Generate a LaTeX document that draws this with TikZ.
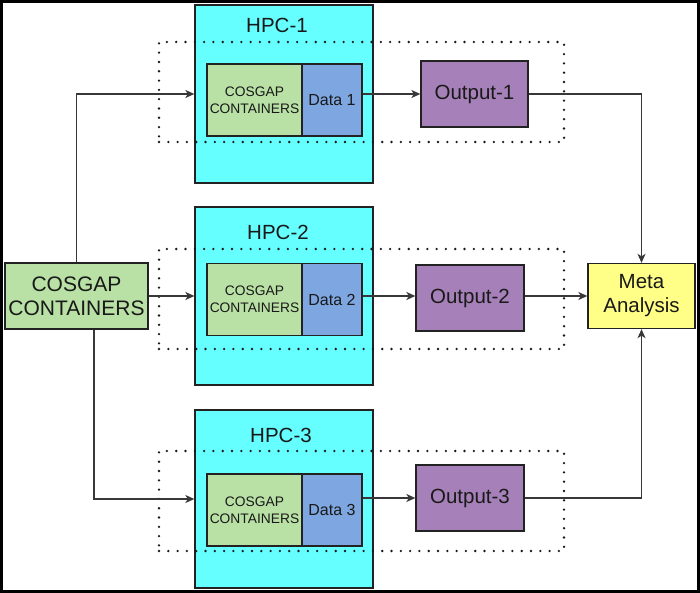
\documentclass[tikz,border=0pt]{standalone}
\usepackage{fontspec}
\setmainfont{Liberation Sans}
\usetikzlibrary{arrows.meta}
\definecolor{hpccyan}{HTML}{66FFFF}
\definecolor{cgreen}{HTML}{B9E0A5}
\definecolor{dblue}{HTML}{7EA6E0}
\definecolor{opurple}{HTML}{A680B8}
\definecolor{myellow}{HTML}{FFFF88}
\definecolor{edgec}{HTML}{222222}
\tikzset{
  basebox/.style={draw=edgec, line width=1.3pt, inner sep=0pt, anchor=center, align=center, text=black!90},
  hpcbox/.style={basebox, fill=hpccyan, minimum width=178pt, minimum height=178pt},
  hpctitle/.style={inner sep=0pt, anchor=center, text=black!90, font=\fontsize{20.5}{24}\selectfont},
  grpbox/.style={draw=black!90, line width=2.6pt, line cap=round, dash pattern=on 0pt off 9.3pt, minimum width=405pt, minimum height=100pt, inner sep=0pt, anchor=center},
  cgsmall/.style={basebox, fill=cgreen, minimum width=95pt, minimum height=72pt, font=\fontsize{13.8}{16.7}\selectfont},
  databox/.style={basebox, fill=dblue, minimum width=60pt, minimum height=72pt, font=\fontsize{16}{19}\selectfont},
  outbox/.style={basebox, fill=opurple, minimum width=108pt, minimum height=66pt, font=\fontsize{20.5}{24}\selectfont},
  conn/.style={draw=edgec!90, line width=1.4pt},
  arr/.style={conn, -{Stealth[length=9pt, width=8pt, inset=2.5pt]}},
}
\begin{document}
\begin{tikzpicture}[x=1pt, y=-1pt]
\useasboundingbox (0,0) rectangle (700,593);
\fill[white] (0,0) rectangle (700,593);

% HPC containers
\node[hpcbox] (hpc1) at (284,94) {};
\node[hpcbox] (hpc2) at (284,296) {};
\node[hpcbox] (hpc3) at (284,499) {};
\node[hpctitle] (t1) at (277,25) {HPC-1};
\node[hpctitle] (t2) at (278,232) {HPC-2};
\node[hpctitle] (t3) at (281,435) {HPC-3};

% dotted groups
\node[grpbox] (g1) at (361.5,92) {};
\node[grpbox] (g2) at (361.5,299) {};
\node[grpbox] (g3) at (361.5,501) {};

% inner boxes
\node[cgsmall] (c1) at (254.5,100) {COSGAP\\CONTAINERS};
\node[databox] (d1) at (332,100) {Data 1};
\node[cgsmall] (c2) at (254.5,299.5) {COSGAP\\CONTAINERS};
\node[databox] (d2) at (332,299.5) {Data 2};
\node[cgsmall] (c3) at (254.5,510) {COSGAP\\CONTAINERS};
\node[databox] (d3) at (332,510) {Data 3};

% outputs
\node[outbox, minimum width=107pt] (o1) at (474.5,94) {Output-1};
\node[outbox] (o2) at (470,298) {Output-2};
\node[outbox] (o3) at (470,498) {Output-3};

% source and sink
\node[basebox, fill=cgreen, minimum width=143pt, minimum height=66pt, font=\fontsize{21}{24}\selectfont] (cg) at (76.5,296) {COSGAP\\CONTAINERS};
\node[basebox, fill=myellow, minimum width=107pt, minimum height=65pt, font=\fontsize{20.5}{24}\selectfont] (meta) at (641.5,296) {Meta\\Analysis};

% connectors
\draw[arr] (cg.north) |- (hpc1.west);
\draw[arr] (cg.east) -- (hpc2.west);
\draw[arr] ([xshift=17.5pt]cg.south) |- (hpc3.west);

\draw[arr] (o1.west -| d1.east) -- (o1.west);
\draw[arr] (d2.east |- cg.east) -- (o2.west |- cg.east);
\draw[arr] (o3.west -| d3.east) -- (o3.west);

\draw[arr] (o1.east) -| (meta.north);
\draw[arr] (o2.east |- meta.west) -- (meta.west);
\draw[arr] (o3.east) -| (meta.south);

% frame
\draw[line width=3pt] (1.5,1.5) rectangle (698.5,591.5);
\end{tikzpicture}
\end{document}
